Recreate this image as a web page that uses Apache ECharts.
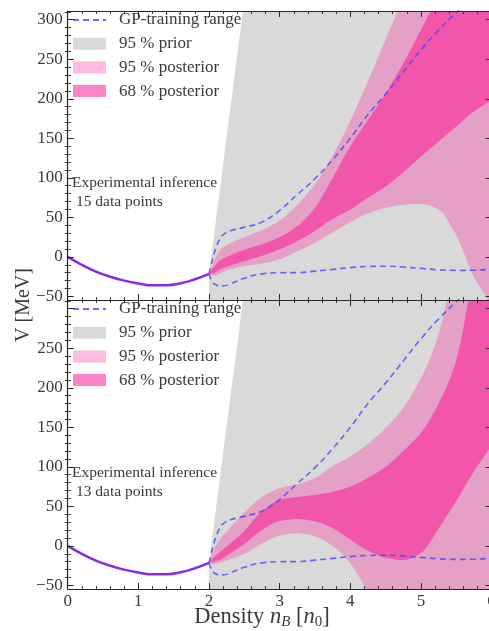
<!DOCTYPE html>
<html>
<head>
<meta charset="utf-8">
<script src="https://cdn.jsdelivr.net/npm/echarts@6.0.0/dist/echarts.min.js"></script>
<style>
  html, body { margin: 0; padding: 0; overflow: hidden; background: #ffffff; }
  #chart { width: 500px; height: 631px; }
</style>
</head>
<body>
<div id="chart"></div>
<script>
// ---- data -------------------------------------------------------------
// Known potential below 2 n0 (MeV)
const lowDensity   = [0, 0.2, 0.4, 0.6, 0.8, 1.0, 1.2, 1.4, 1.6, 1.8, 2.0];
const lowPotential = [0, -10, -18.5, -25, -30, -33.5, -36, -35.8, -33.3, -28.3, -21.5];

// GP-training range (upper / lower envelope)
const gpDensity = [2.0, 2.03, 2.06, 2.1, 2.15, 2.2, 2.3, 2.5, 2.75, 3.0, 3.25, 3.5, 3.75, 4.0, 4.25, 4.5, 4.75, 5.0, 5.25, 5.5, 5.75, 6.0];
const gpUpper   = [-21.5, -10, 0, 12, 22, 28, 33, 37.5, 44, 59, 79, 99, 123, 150, 180, 206, 234, 262, 287, 309, 330, 350];
const gpLower   = [-21.5, -29, -33, -35.5, -36.5, -36.7, -34, -27, -21.5, -20, -19.8, -18, -15.8, -13.5, -12, -11.8, -12.8, -14.5, -16.3, -17, -16.8, -15.5];

// 95 % prior band
const priorDensity = [2.0, 2.0, 2.5, 6.1];
const priorLower   = [-21.5, -60, -60, -60];
const priorUpper   = [-21.5, -21.5, 325, 3000];

// Posterior bands share one density grid
const bandDensity = [2.0, 2.06, 2.15, 2.3, 2.5, 2.75, 3.0, 3.25, 3.5, 3.75, 4.0, 4.25, 4.5, 4.75, 5.0, 5.25, 5.5, 5.75, 6.0, 6.1];

// 15 data points
const post95Upper15 = [-21.5, -8, 8, 17, 25, 34, 46, 66, 92, 128, 172, 222, 275, 328, 380, 430, 480, 530, 580, 600];
const post95Lower15 = [-21.5, -24, -21, -15.5, -11.5, -8.5, -3, 7, 18, 31, 44, 55, 62, 66, 67, 60, 27, -25, -62, -80];
const post68Upper15 = [-21.5, -14, -5, 2, 9, 16, 25, 39, 62, 100, 140, 173, 207, 245, 287, 330, 372, 415, 460, 478];
const post68Lower15 = [-21.5, -21, -16, -11, -5.5, 1.5, 9.5, 20, 33, 48, 60, 75, 89, 107, 127, 146, 165, 184, 198, 203];

// 13 data points
const post95Upper13 = [-21.5, -7, 7.6, 23, 42, 62, 73, 78, 86, 101, 113, 129, 149, 175, 212, 268, 370, 460, 550, 590];
const post95Lower13 = [-21.5, -23, -21, -17, -10, 3, 13, 16, 12, 0, -22, -59, -100, -130, -150, -165, -175, -185, -195, -200];
const post68Upper13 = [-21.5, -15, -8, 3, 19, 44, 58, 62, 64.5, 68.5, 75, 86, 100, 120, 143, 180, 235, 350, 460, 500];
const post68Lower13 = [-21.5, -20, -17.7, -9.5, 2.5, 20, 31.5, 34, 31, 22.5, 8, -6, -15, -18, -9, 22, 57, 94, 127, 140];

// Axis ticks
const xTicks = [0, 1, 2, 3, 4, 5, 6];
const yMajor = [-50, 0, 50, 100, 150, 200, 250, 300];
const yMinor = [-40, -30, -20, -10, 10, 20, 30, 40, 60, 70, 80, 90, 110, 120, 130, 140,
                160, 170, 180, 190, 210, 220, 230, 240, 260, 270, 280, 290, 310];
const yLabelsTop = [-50, 0, 50, 100, 150, 200, 250, 300];
const yLabelsBottom = [-50, 0, 50, 100, 150, 200, 250];

const panelNotes = ['Experimental inference\n 15 data points', 'Experimental inference\n 13 data points'];
const legendNames = ['GP-training range', '95 % prior', '95 % posterior', '68 % posterior'];

// ---- styling ----------------------------------------------------------
const FONT = "'Liberation Serif', 'DejaVu Serif', serif";
const INK = '#262626';
const TEXT = '#3a3a3a';
const GRAY = '#d9d9d9';
const PINK95 = 'rgba(255, 20, 147, 0.29)';
const PINK68 = 'rgba(255, 20, 147, 0.52)';
const DASH = 'rgba(70, 70, 245, 0.8)';
const PURPLE = '#8a2be2';

const Y_MIN = -54.5, Y_MAX = 311;
const GRID_LEFT = 67.7, GRID_W = 423.9, GRID_H = 289;
const gridTops = [11, 300];

// Monotone cubic (Fritsch–Carlson) through pixel points, for band edges
function monotone(pts, steps) {
  const n = pts.length;
  if (n < 3) return pts.slice();
  const dx = [], m = [];
  for (let i = 0; i < n - 1; i++) {
    dx.push(pts[i + 1][0] - pts[i][0]);
    m.push((pts[i + 1][1] - pts[i][1]) / dx[i]);
  }
  const t = new Array(n);
  t[0] = m[0];
  t[n - 1] = m[n - 2];
  for (let i = 1; i < n - 1; i++) {
    if (m[i - 1] * m[i] <= 0) t[i] = 0;
    else {
      const w1 = 2 * dx[i] + dx[i - 1], w2 = dx[i] + 2 * dx[i - 1];
      t[i] = (w1 + w2) / (w1 / m[i - 1] + w2 / m[i]);
    }
  }
  const out = [];
  for (let i = 0; i < n - 1; i++) {
    const h = dx[i];
    for (let s = 0; s < steps; s++) {
      const u = s / steps, u2 = u * u, u3 = u2 * u;
      const y = (2 * u3 - 3 * u2 + 1) * pts[i][1] + (u3 - 2 * u2 + u) * h * t[i]
              + (-2 * u3 + 3 * u2) * pts[i + 1][1] + (u3 - u2) * h * t[i + 1];
      out.push([pts[i][0] + u * h, y]);
    }
  }
  out.push(pts[n - 1]);
  return out;
}

// Filled band between lower and upper curves, drawn as one polygon
function band(name, g, xs, lo, hi, color, z, smooth) {
  const rows = xs.map((x, i) => [x, lo[i], hi[i]]);
  return {
    type: 'custom', name: name, xAxisIndex: 2 * g, yAxisIndex: 4 * g,
    clip: true, silent: true, z: z,
    itemStyle: { color: color },
    encode: { x: 0, y: [1, 2] },
    data: rows,
    renderItem: function (params, api) {
      if (params.dataIndex !== 0) return null;
      let top = rows.map(r => api.coord([r[0], r[2]]));
      let bot = rows.map(r => api.coord([r[0], r[1]]));
      if (smooth) { top = monotone(top, 10); bot = monotone(bot, 10); }
      return {
        type: 'polygon',
        shape: { points: top.concat(bot.reverse()) },
        style: { fill: color, stroke: null }
      };
    }
  };
}

function curve(name, g, xs, ys, color, width, dash, z) {
  return {
    type: 'line', name: name, xAxisIndex: 2 * g, yAxisIndex: 4 * g,
    data: xs.map((x, i) => [x, ys[i]]),
    symbol: 'none', smooth: 0.5, z: z, silent: true,
    lineStyle: { color: color, width: width, type: dash || 'solid' },
    itemStyle: { color: color }
  };
}

// ---- axes -------------------------------------------------------------
const grid = gridTops.map(t => ({ left: GRID_LEFT, top: t, width: GRID_W, height: GRID_H }));
const xAxis = [];
const yAxis = [];
gridTops.forEach((_, g) => {
  ['bottom', 'top'].forEach(pos => {
    xAxis.push({
      type: 'value', gridIndex: g, position: pos, z: 10,
      min: xTicks[0], max: xTicks[xTicks.length - 1], interval: 1,
      axisLine: { show: true, onZero: false, lineStyle: { color: INK, width: 1.2 } },
      axisTick: { show: true, inside: true, length: 6, lineStyle: { color: INK, width: 1 } },
      minorTick: { show: true, splitNumber: 5, length: 3, lineStyle: { color: INK, width: 0.9 } },
      axisLabel: { show: g === 1 && pos === 'bottom', margin: 4, fontFamily: FONT, fontSize: 17, color: TEXT },
      splitLine: { show: false }, minorSplitLine: { show: false }
    });
  });
  ['left', 'right'].forEach(pos => {
    yAxis.push({
      type: 'value', gridIndex: g, position: pos, z: 10, min: Y_MIN, max: Y_MAX,
      axisLine: { show: true, onZero: false, lineStyle: { color: INK, width: 1.2 } },
      axisTick: { show: true, inside: true, length: 6, customValues: yMajor, lineStyle: { color: INK, width: 1 } },
      axisLabel: {
        show: pos === 'left', customValues: g === 0 ? yLabelsTop : yLabelsBottom,
        margin: 5, fontFamily: FONT, fontSize: 17, color: TEXT,
        formatter: v => (v < 0 ? '\u2212' + Math.abs(v) : String(v))
      },
      splitLine: { show: false }
    });
    yAxis.push({
      type: 'value', gridIndex: g, position: pos, z: 10, min: Y_MIN, max: Y_MAX,
      axisLine: { show: false },
      axisTick: { show: true, inside: true, length: 3, customValues: yMinor, lineStyle: { color: INK, width: 0.9 } },
      axisLabel: { show: false },
      splitLine: { show: false }
    });
  });
});

// ---- series -----------------------------------------------------------
const panels = [
  { p95u: post95Upper15, p95l: post95Lower15, p68u: post68Upper15, p68l: post68Lower15 },
  { p95u: post95Upper13, p95l: post95Lower13, p68u: post68Upper13, p68l: post68Lower13 }
];
const series = [];
panels.forEach((p, g) => {
  series.push(band(legendNames[1], g, priorDensity, priorLower, priorUpper, GRAY, 1, false));
  series.push(band(legendNames[2], g, bandDensity, p.p95l, p.p95u, PINK95, 2, true));
  series.push(band(legendNames[3], g, bandDensity, p.p68l, p.p68u, PINK68, 3, true));
  series.push(curve(legendNames[0], g, gpDensity, gpUpper, DASH, 1.6, [6, 4], 5));
  series.push(curve(legendNames[0], g, gpDensity, gpLower, DASH, 1.6, [6, 4], 5));
  series.push(curve('V', g, lowDensity, lowPotential, PURPLE, 2.5, null, 6));
});

// ---- legends ----------------------------------------------------------
const legend = gridTops.map(t => ({
  orient: 'vertical', left: 72, top: t + 0.5, padding: 0,
  itemWidth: 33, itemHeight: 12, itemGap: 6.7, selectedMode: false,
  textStyle: { fontFamily: FONT, fontSize: 17, color: TEXT, lineHeight: 17, padding: [0, 0, 0, 8] },
  data: [
    { name: legendNames[0], itemStyle: { opacity: 0 } },
    { name: legendNames[1], icon: 'rect' },
    { name: legendNames[2], icon: 'rect' },
    { name: legendNames[3], icon: 'rect' }
  ]
}));

// ---- text -------------------------------------------------------------
const graphic = [
  { type: 'text', left: 72, top: 174, z: 20,
    style: { text: panelNotes[0], fontFamily: FONT, fontSize: 15.5, lineHeight: 18.7, fill: TEXT } },
  { type: 'text', left: 72, top: 464, z: 20,
    style: { text: panelNotes[1], fontFamily: FONT, fontSize: 15.5, lineHeight: 18.7, fill: TEXT } },
  { type: 'text', x: 24, y: 305, rotation: Math.PI / 2, z: 20,
    style: { text: 'V [MeV]', fontFamily: FONT, fontSize: 20, fill: TEXT, align: 'center', verticalAlign: 'middle' } },
  { type: 'text', x: 262, y: 617, z: 20,
    style: {
      text: '{r|Density }{i|n}{s|B}{r| [}{i|n}{z|0}{r|]}',
      align: 'center', verticalAlign: 'middle',
      rich: {
        r: { fontFamily: FONT, fontSize: 22.5, fill: TEXT, lineHeight: 26 },
        i: { fontFamily: FONT, fontSize: 22.5, fontStyle: 'italic', fill: TEXT, lineHeight: 26 },
        s: { fontFamily: FONT, fontSize: 15, fontStyle: 'italic', fill: TEXT, lineHeight: 26, padding: [10, 0, 0, 0] },
        z: { fontFamily: FONT, fontSize: 15, fill: TEXT, lineHeight: 26, padding: [10, 0, 0, 0] }
      }
    } }
];

const chart = echarts.init(document.getElementById('chart'), null, { renderer: 'canvas' });
chart.setOption({
  animation: false,
  backgroundColor: '#ffffff',
  grid: grid,
  xAxis: xAxis,
  yAxis: yAxis,
  legend: legend,
  series: series,
  graphic: graphic
});
</script>
</body>
</html>
